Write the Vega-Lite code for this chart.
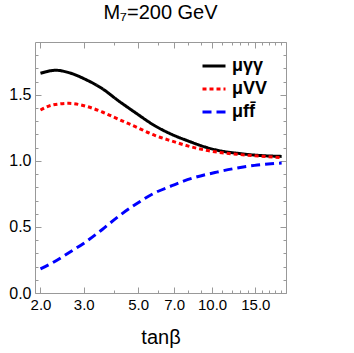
{
  "$schema": "https://vega.github.io/schema/vega-lite/v6.json",
  "width": 251,
  "height": 251,
  "autosize": {"type": "none"},
  "padding": {"left": 35, "top": 42, "right": 68, "bottom": 60},
  "title": {"text": "M₇=200 GeV", "font": "Liberation Sans", "fontSize": 20, "fontWeight": "normal", "color": "#000000", "baseline": "alphabetic", "offset": 3},
  "config": {
    "view": {"stroke": "#999999", "strokeWidth": 1},
    "axis": {"domain": false, "grid": false, "tickColor": "#999999", "tickWidth": 1, "labelFont": "Liberation Sans", "labelFontSize": 15, "labelColor": "#000000", "titleFont": "Liberation Sans", "titleFontWeight": "normal", "titleColor": "#000000"}
  },
  "data": {"values": [
    {"tb": 2.0, "mu": 1.663, "s": "μγγ"},
    {"tb": 2.31, "mu": 1.686, "s": "μγγ"},
    {"tb": 2.61, "mu": 1.668, "s": "μγγ"},
    {"tb": 3.05, "mu": 1.617, "s": "μγγ"},
    {"tb": 3.57, "mu": 1.547, "s": "μγγ"},
    {"tb": 4.17, "mu": 1.453, "s": "μγγ"},
    {"tb": 4.87, "mu": 1.365, "s": "μγγ"},
    {"tb": 5.87, "mu": 1.264, "s": "μγγ"},
    {"tb": 6.86, "mu": 1.2, "s": "μγγ"},
    {"tb": 8.01, "mu": 1.15, "s": "μγγ"},
    {"tb": 9.37, "mu": 1.105, "s": "μγγ"},
    {"tb": 10.95, "mu": 1.074, "s": "μγγ"},
    {"tb": 12.79, "mu": 1.057, "s": "μγγ"},
    {"tb": 14.9, "mu": 1.044, "s": "μγγ"},
    {"tb": 19.2, "mu": 1.034, "s": "μγγ"},
    {"tb": 2.0, "mu": 1.385, "s": "μVV"},
    {"tb": 2.24, "mu": 1.423, "s": "μVV"},
    {"tb": 2.61, "mu": 1.436, "s": "μVV"},
    {"tb": 3.05, "mu": 1.415, "s": "μVV"},
    {"tb": 3.57, "mu": 1.37, "s": "μVV"},
    {"tb": 4.17, "mu": 1.314, "s": "μVV"},
    {"tb": 4.87, "mu": 1.259, "s": "μVV"},
    {"tb": 5.87, "mu": 1.192, "s": "μVV"},
    {"tb": 6.86, "mu": 1.15, "s": "μVV"},
    {"tb": 8.01, "mu": 1.112, "s": "μVV"},
    {"tb": 9.37, "mu": 1.082, "s": "μVV"},
    {"tb": 10.95, "mu": 1.062, "s": "μVV"},
    {"tb": 12.79, "mu": 1.049, "s": "μVV"},
    {"tb": 14.9, "mu": 1.039, "s": "μVV"},
    {"tb": 19.2, "mu": 1.024, "s": "μVV"},
    {"tb": 2.0, "mu": 0.183, "s": "μff̄"},
    {"tb": 2.24, "mu": 0.229, "s": "μff̄"},
    {"tb": 2.61, "mu": 0.305, "s": "μff̄"},
    {"tb": 3.05, "mu": 0.385, "s": "μff̄"},
    {"tb": 3.57, "mu": 0.481, "s": "μff̄"},
    {"tb": 4.17, "mu": 0.582, "s": "μff̄"},
    {"tb": 4.87, "mu": 0.67, "s": "μff̄"},
    {"tb": 5.87, "mu": 0.76, "s": "μff̄"},
    {"tb": 6.86, "mu": 0.812, "s": "μff̄"},
    {"tb": 7.65, "mu": 0.847, "s": "μff̄"},
    {"tb": 10.45, "mu": 0.915, "s": "μff̄"},
    {"tb": 14.9, "mu": 0.966, "s": "μff̄"},
    {"tb": 19.2, "mu": 0.984, "s": "μff̄"}
  ]},
  "layer": [
    {
      "mark": {"type": "line", "strokeWidth": 3, "interpolate": "monotone", "strokeCap": "butt"},
      "encoding": {
        "x": {"field": "tb", "type": "quantitative", "scale": {"type": "log", "domain": [1.9, 20], "nice": false},
              "axis": {"orient": "bottom", "values": [2, 3, 5, 7, 10, 15], "format": ".1f", "tickSize": -6, "labelPadding": 10, "title": "tanβ", "titleFontSize": 20, "titlePadding": 15}},
        "y": {"field": "mu", "type": "quantitative", "scale": {"domain": [0, 1.9], "nice": false, "zero": false},
              "axis": {"orient": "left", "values": [0, 0.5, 1, 1.5], "format": ".1f", "tickSize": -6, "labelPadding": 10, "labelFontSize": 16, "title": null}},
        "color": {"field": "s", "type": "nominal", "scale": {"domain": ["μγγ", "μVV", "μff̄"], "range": ["#000000", "#ff0000", "#0000ff"]},
                  "legend": {"title": null, "orient": "none", "legendX": 166, "legendY": 11, "symbolType": "stroke", "symbolSize": 529, "symbolStrokeWidth": 3, "labelFont": "Liberation Sans", "labelFontSize": 18, "labelFontWeight": "bold", "labelColor": "#000000", "rowPadding": 1, "labelOffset": 5, "padding": 0}},
        "strokeDash": {"field": "s", "type": "nominal", "scale": {"domain": ["μγγ", "μVV", "μff̄"], "range": [[1, 0], [4, 3], [9, 5]]},
                  "legend": {"title": null, "orient": "none", "legendX": 166, "legendY": 11, "symbolType": "stroke", "symbolSize": 529, "symbolStrokeWidth": 3, "labelFont": "Liberation Sans", "labelFontSize": 18, "labelFontWeight": "bold", "labelColor": "#000000", "rowPadding": 1, "labelOffset": 5, "padding": 0}}
      }
    },
    {
      "mark": {"type": "line", "strokeOpacity": 0},
      "encoding": {
        "x": {"field": "tb", "type": "quantitative", "scale": {"type": "log", "domain": [1.9, 20], "nice": false},
              "axis": {"orient": "bottom", "values": [4, 6, 8, 9, 11, 12, 13, 14, 16, 17, 18, 19, 20], "labels": false, "tickSize": -3, "title": null}},
        "y": {"field": "mu", "type": "quantitative", "scale": {"domain": [0, 1.9], "nice": false, "zero": false},
              "axis": {"orient": "left", "values": [0.1, 0.2, 0.3, 0.4, 0.6, 0.7, 0.8, 0.9, 1.1, 1.2, 1.3, 1.4, 1.6, 1.7, 1.8], "labels": false, "tickSize": -3, "title": null}}
      }
    },
    {
      "mark": {"type": "line", "strokeOpacity": 0},
      "encoding": {
        "x": {"field": "tb", "type": "quantitative", "scale": {"type": "log", "domain": [1.9, 20], "nice": false},
              "axis": {"orient": "top", "values": [2, 3, 5, 7, 10, 15], "labels": false, "tickSize": -6, "title": null}},
        "y": {"field": "mu", "type": "quantitative", "scale": {"domain": [0, 1.9], "nice": false, "zero": false},
              "axis": {"orient": "right", "values": [0, 0.5, 1, 1.5], "labels": false, "tickSize": -6, "title": null}}
      }
    },
    {
      "mark": {"type": "line", "strokeOpacity": 0},
      "encoding": {
        "x": {"field": "tb", "type": "quantitative", "scale": {"type": "log", "domain": [1.9, 20], "nice": false},
              "axis": {"orient": "top", "values": [4, 6, 8, 9, 11, 12, 13, 14, 16, 17, 18, 19, 20], "labels": false, "tickSize": -3, "title": null}},
        "y": {"field": "mu", "type": "quantitative", "scale": {"domain": [0, 1.9], "nice": false, "zero": false},
              "axis": {"orient": "right", "values": [0.1, 0.2, 0.3, 0.4, 0.6, 0.7, 0.8, 0.9, 1.1, 1.2, 1.3, 1.4, 1.6, 1.7, 1.8], "labels": false, "tickSize": -3, "title": null}}
      }
    }
  ],
  "resolve": {"axis": {"x": "independent", "y": "independent"}}
}
